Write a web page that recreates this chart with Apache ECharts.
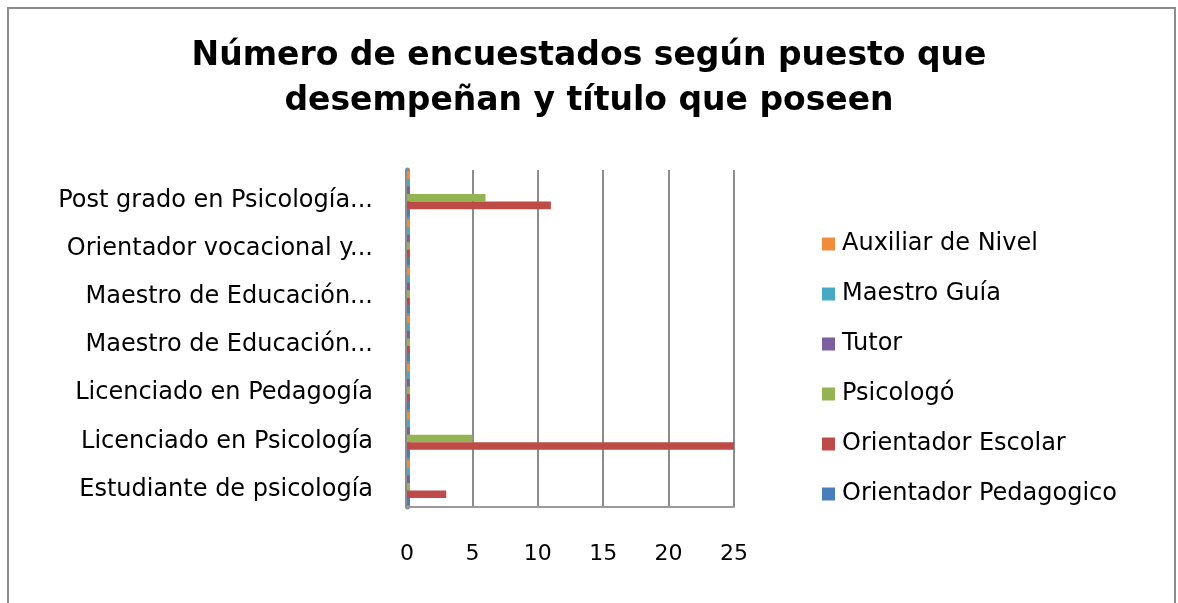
<!DOCTYPE html>
<html>
<head>
<meta charset="utf-8">
<title>Número de encuestados</title>
<script src="https://cdn.jsdelivr.net/npm/echarts@6/dist/echarts.min.js"></script>
<style>
  html, body { margin: 0; padding: 0; background: #fff; }
  #chart { width: 1178px; height: 603px; }
</style>
</head>
<body>
<div id="chart"></div>
<script>
// categorías de abajo hacia arriba (eje y de ECharts empieza abajo)
const categories = [
  "Estudiante de psicología",
  "Licenciado en Psicología",
  "Licenciado en Pedagogía",
  "Maestro de Educación...",
  "Maestro de Educación...",
  "Orientador vocacional y...",
  "Post grado en Psicología..."
];
const xTicks = [0, 5, 10, 15, 20, 25];

// series de arriba hacia abajo dentro de cada grupo (igual que la leyenda)
const seriesNames = [
  "Auxiliar de Nivel",
  "Maestro Guía",
  "Tutor",
  "Psicologó",
  "Orientador Escolar",
  "Orientador Pedagogico"
];
const auxiliarNivel = [0, 0, 0, 0, 0, 0, 0];
const maestroGuia = [0, 0, 0, 0, 0, 0, 0];
const tutor = [0, 0, 0, 0, 0, 0, 0];
const psicologo = [0, 5, 0, 0, 0, 0, 6];
const orientadorEscolar = [3, 25, 0, 0, 0, 0, 11];
const orientadorPedagogico = [0, 0, 0, 0, 0, 0, 0];

const seriesData = [auxiliarNivel, maestroGuia, tutor, psicologo, orientadorEscolar, orientadorPedagogico];
const colors = ["#F08C3C", "#46AAC5", "#7D5FA0", "#94B454", "#BE4B48", "#4A7EBB"];

const font = "'DejaVu Sans', 'Open Sans', sans-serif";
const chart = echarts.init(document.getElementById("chart"));

const option = {
  animation: false,
  title: {
    text: "Número de encuestados según puesto que\ndesempeñan y título que poseen",
    left: "center",
    top: 29,
    textStyle: {
      fontFamily: font,
      fontSize: 33,
      fontWeight: "bold",
      color: "#000",
      lineHeight: 45
    }
  },
  legend: {
    orient: "vertical",
    left: 817,
    top: 227,
    itemWidth: 13,
    itemHeight: 13,
    itemGap: 26,
    icon: "rect",
    data: seriesNames,
    textStyle: { fontFamily: font, fontSize: 24, color: "#000", padding: [0, 0, 0, 2] }
  },
  grid: {
    left: 407,
    right: 444,
    top: 170,
    bottom: 96
  },
  xAxis: {
    type: "value",
    min: xTicks[0],
    max: xTicks[xTicks.length - 1],
    interval: 5,
    axisLine: { show: true, lineStyle: { color: "#9a9a9a", width: 2 } },
    axisTick: { show: false },
    axisLabel: { fontFamily: font, fontSize: 22, color: "#000", margin: 36 },
    splitLine: { show: true, lineStyle: { color: "#8c8c8c", width: 2 } }
  },
  yAxis: {
    type: "category",
    data: categories,
    axisLine: { show: true, lineStyle: { color: "#8c8c8c", width: 5 } },
    axisTick: { show: false },
    axisLabel: {
      margin: 34,
      // Excel dibuja los rótulos un poco más abajo del centro de cada grupo
      formatter: (v) => "{a|" + v + "}",
      rich: {
        a: { fontFamily: font, fontSize: 24, color: "#000", padding: [13, 0, 0, 0] }
      }
    }
  },
  graphic: [
    {
      type: "rect",
      shape: { x: 8, y: 8, width: 1167, height: 610 },
      style: { fill: "none", stroke: "#8c8c8c", lineWidth: 2 },
      silent: true
    }
  ],
  series: seriesNames.map((name, i) => ({
    name: name,
    type: "bar",
    data: seriesData[i],
    barGap: "0%",
    barCategoryGap: "6%",
    barMinHeight: 3,
    itemStyle: { color: colors[i] }
  }))
};

chart.setOption(option);
</script>
</body>
</html>
